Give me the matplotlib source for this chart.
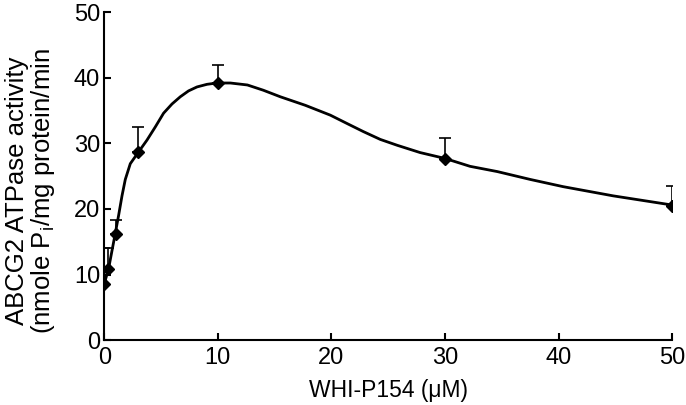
import matplotlib
matplotlib.use('Agg')
import matplotlib.pyplot as plt
import numpy as np

plt.rcParams['font.family'] = ['Liberation Sans', 'DejaVu Sans']

# measured points (WHI-P154 concentration, activity) and upper error bar tops
conc = [0, 0.3, 1, 3, 10, 30, 50]
activity = [8.5, 10.8, 16.2, 28.7, 39.2, 27.6, 20.4]
err_top = [14.0, 14.0, 18.3, 32.5, 41.9, 30.8, 23.5]

# fitted curve
curve_x = [0, 0.38, 0.97, 1.26, 1.56, 1.85, 2.29, 3.02, 3.76, 4.49, 5.22, 5.96,
           6.69, 7.42, 8.16, 9.04, 9.9, 11.1, 12.6, 14.0, 15.5, 17.7, 19.9,
           21.4, 22.8, 24.3, 25.8, 27.8, 30, 32.2, 34.6, 37.5, 40.4, 44.8, 50]
curve_y = [8.6, 10.9, 16.3, 19.0, 22.0, 24.5, 26.9, 28.7, 30.5, 32.5, 34.6, 36.0,
           37.1, 38.0, 38.6, 39.0, 39.2, 39.2, 38.9, 38.1, 37.1, 35.8, 34.3,
           33.0, 31.8, 30.6, 29.7, 28.6, 27.7, 26.5, 25.7, 24.5, 23.4, 22.0, 20.6]

fig = plt.figure(figsize=(6.86, 4.05), dpi=100)
ax = fig.add_axes([0.152, 0.160, 0.828, 0.810])

upper = np.array(err_top) - np.array(activity)
ax.errorbar(conc, activity, yerr=[np.zeros(len(conc)), upper], fmt='none',
            ecolor='black', elinewidth=1.2, capsize=4, capthick=1.2)
ax.plot(curve_x, curve_y, color='black', linewidth=2,
        solid_joinstyle='round', solid_capstyle='round')
ax.plot(conc, activity, linestyle='none', marker='D', markersize=6.5, color='black')

ax.set_xlim(0, 50)
ax.set_ylim(0, 50)
ax.set_xticks(range(0, 51, 10))
ax.set_yticks(range(0, 51, 10))
ax.spines['top'].set_visible(False)
ax.spines['right'].set_visible(False)
ax.spines['left'].set_linewidth(1.5)
ax.spines['bottom'].set_linewidth(1.5)
ax.tick_params(direction='in', length=5, width=1.5, labelsize=17)
ax.tick_params(axis='x', pad=5)
ax.tick_params(axis='y', pad=3)
ax.set_xlabel('WHI-P154 (\u03bcM)', fontsize=16.5, labelpad=7)
ax.set_ylabel('ABCG2 ATPase activity\n(nmole P$_\\mathregular{i}$/mg protein/min',
              fontsize=18.5, linespacing=1.0)
ax.yaxis.set_label_coords(-0.084, 0.455)

fig.savefig('out.png', dpi=100)
plt.close(fig)
